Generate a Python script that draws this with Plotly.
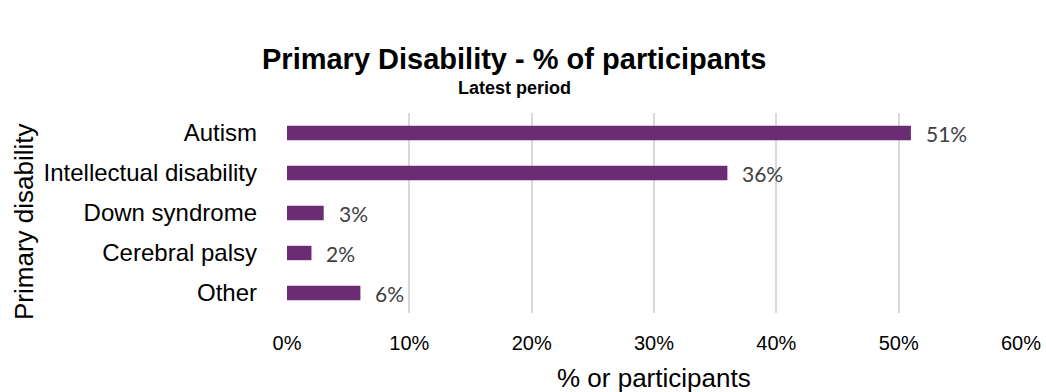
import plotly.graph_objects as go

# Share of participants by primary disability
categories = ["Autism", "Intellectual disability", "Down syndrome", "Cerebral palsy", "Other"]
shares = [51, 36, 3, 2, 6]
x_ticks = [0, 10, 20, 30, 40, 50, 60]
x_tick_labels = ["0%", "10%", "20%", "30%", "40%", "50%", "60%"]

BAR_COLOR = "#6B2C73"
W, H = 1046, 392
L, R, T, B = 287, 25, 113, 79
plot_h = H - T - B
plot_w = W - L - R
SANS = "Liberation Sans, Arial, sans-serif"


def py(pixel_y):
    """Convert a pixel row to paper y (relative to the plot area)."""
    return (H - B - pixel_y) / plot_h


def px(pixel_x):
    return (pixel_x - L) / plot_w


fig = go.Figure(
    go.Bar(
        x=shares,
        y=categories,
        orientation="h",
        marker=dict(color=BAR_COLOR, line=dict(width=0)),
        hoverinfo="skip",
    )
)

# value labels placed just past each bar end
for cat, val in zip(categories, shares):
    fig.add_annotation(
        x=val, y=cat, xref="x", yref="y",
        text=f"{val}%", showarrow=False,
        xanchor="left", yanchor="middle", xshift=13,
        font=dict(family="Lato, Open Sans, sans-serif", size=21, color="#404040"),
    )

# title and subtitle
fig.add_annotation(
    x=px(514), y=py(59), xref="paper", yref="paper",
    text="<b>Primary Disability - % of participants</b>", showarrow=False,
    xanchor="center", yanchor="middle",
    font=dict(family=SANS, size=29, color="#000000"),
)
fig.add_annotation(
    x=px(514), y=py(88), xref="paper", yref="paper",
    text="<b>Latest period</b>", showarrow=False,
    xanchor="center", yanchor="middle",
    font=dict(family=SANS, size=18, color="#000000"),
)

# axis titles
fig.add_annotation(
    x=px(24), y=py(222), xref="paper", yref="paper",
    text="Primary disability", showarrow=False, textangle=-90,
    xanchor="center", yanchor="middle",
    font=dict(family=SANS, size=26, color="#000000"),
)
fig.add_annotation(
    x=0.5, y=py(378), xref="paper", yref="paper",
    text="% or participants", showarrow=False,
    xanchor="center", yanchor="middle",
    font=dict(family=SANS, size=26, color="#000000"),
)

fig.update_layout(
    width=W, height=H,
    margin=dict(l=L, r=R, t=T, b=B, autoexpand=False),
    paper_bgcolor="white", plot_bgcolor="white",
    bargap=0.64,
    showlegend=False,
    xaxis=dict(
        range=[0, 60],
        tickvals=x_ticks, ticktext=x_tick_labels,
        showgrid=True, gridcolor="#D9D9D9", gridwidth=1.5,
        zeroline=False, showline=False, ticks="",
        ticklabelstandoff=16,
        tickfont=dict(family=SANS, size=20, color="#000000"),
        fixedrange=True,
    ),
    yaxis=dict(
        categoryorder="array", categoryarray=categories[::-1],
        showgrid=False, zeroline=False, ticks="",
        showline=False,
        ticklabelstandoff=29,
        tickfont=dict(family=SANS, size=24, color="#000000"),
        fixedrange=True,
    ),
)

fig.write_html("out.html")
